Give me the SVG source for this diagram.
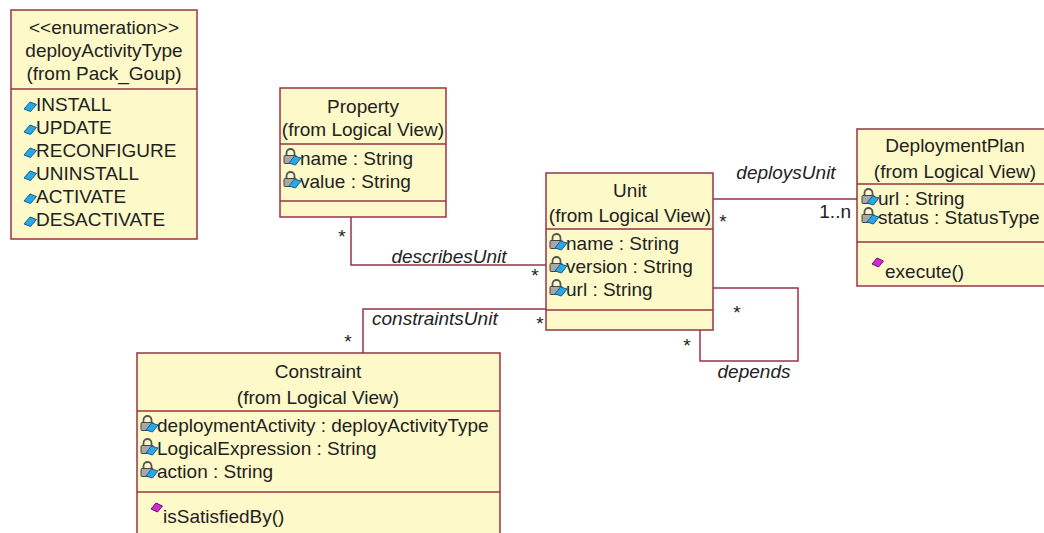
<svg xmlns="http://www.w3.org/2000/svg" xmlns:xlink="http://www.w3.org/1999/xlink" width="1044" height="533" viewBox="0 0 1044 533">
<style>
.box{fill:#fdf9c9;stroke:#993344;stroke-width:1.5}
.div{stroke:#993344;stroke-width:1.5}
.t{font-family:"Liberation Sans",Arial,sans-serif;font-size:19px;fill:#222}
.c{text-anchor:middle}
.i{font-style:italic}
.e{text-anchor:end}
.conn{fill:none;stroke:#993344;stroke-width:1.5}
</style>
<defs>
<g id="attr">
<path d="M2.5,-9 V-12 a4,4 0 0 1 8,0 V-9" fill="none" stroke="#555" stroke-width="1.8"/>
<rect x="0" y="-9.5" width="12.5" height="8" rx="1" fill="#a8a8a8" stroke="#444" stroke-width="1"/>
<polygon points="5,-2 10.5,-9 17,-7 11.5,0" fill="#2aa8e2" stroke="#10609a" stroke-width="1"/>
</g>
<g id="lit">
<polygon points="0,-3 6,-10 12.5,-7.5 6.5,-0.5" fill="#2aa8e2" stroke="#10609a" stroke-width="1"/>
</g>
<g id="op">
<polygon points="0,-11 5,-17 11.5,-14 6.5,-8" fill="#d02ad0" stroke="#6a1070" stroke-width="1"/>
</g>
</defs>
<rect width="1044" height="533" fill="#fff"/>

<g id="connectors">
<polyline class="conn" points="351,217 351,265 546,265"/>
<polyline class="conn" points="363,353 363,309 546,309"/>
<line class="conn" x1="713" y1="199" x2="857" y2="199"/>
<polyline class="conn" points="713,288 798,288 798,361 700,361 700,330"/>
<text class="t i c" x="449" y="263">describesUnit</text>
<text class="t c" x="342" y="243">*</text>
<text class="t c" x="535" y="282">*</text>
<text class="t i" x="372" y="325">constraintsUnit</text>
<text class="t c" x="540" y="330">*</text>
<text class="t c" x="348" y="348">*</text>
<text class="t i c" x="786" y="179">deploysUnit</text>
<text class="t c" x="723" y="228">*</text>
<text class="t e" x="851" y="218">1..n</text>
<text class="t c" x="737" y="319">*</text>
<text class="t c" x="687" y="352">*</text>
<text class="t i c" x="754" y="378">depends</text>
</g>

<g id="deployActivityType">
<rect class="box" x="11" y="10" width="186" height="229"/>
<line class="div" x1="11" y1="89" x2="197" y2="89"/>
<text class="t c" x="104" y="34">&lt;&lt;enumeration&gt;&gt;</text>
<text class="t c" x="104" y="57">deployActivityType</text>
<text class="t c" x="104" y="80">(from Pack_Goup)</text>
<use xlink:href="#lit" x="24" y="112"/><text class="t" x="36" y="111">INSTALL</text>
<use xlink:href="#lit" x="24" y="135"/><text class="t" x="36" y="134">UPDATE</text>
<use xlink:href="#lit" x="24" y="158"/><text class="t" x="36" y="157">RECONFIGURE</text>
<use xlink:href="#lit" x="24" y="181"/><text class="t" x="36" y="180">UNINSTALL</text>
<use xlink:href="#lit" x="24" y="204"/><text class="t" x="36" y="203">ACTIVATE</text>
<use xlink:href="#lit" x="24" y="227"/><text class="t" x="36" y="226">DESACTIVATE</text>
</g>

<g id="Property">
<rect class="box" x="280" y="88" width="166" height="129"/>
<line class="div" x1="280" y1="144" x2="446" y2="144"/>
<line class="div" x1="280" y1="201" x2="446" y2="201"/>
<text class="t c" x="363" y="113">Property</text>
<text class="t c" x="363" y="136">(from Logical View)</text>
<use xlink:href="#attr" x="284" y="165"/><text class="t" x="300" y="165">name : String</text>
<use xlink:href="#attr" x="284" y="188"/><text class="t" x="300" y="188">value : String</text>
</g>

<g id="Unit">
<rect class="box" x="546" y="173" width="167" height="157"/>
<line class="div" x1="546" y1="229" x2="713" y2="229"/>
<line class="div" x1="546" y1="310" x2="713" y2="310"/>
<text class="t c" x="630" y="197">Unit</text>
<text class="t c" x="630" y="222">(from Logical View)</text>
<use xlink:href="#attr" x="550" y="250"/><text class="t" x="566" y="250">name : String</text>
<use xlink:href="#attr" x="550" y="273"/><text class="t" x="566" y="273">version : String</text>
<use xlink:href="#attr" x="550" y="296"/><text class="t" x="566" y="296">url : String</text>
</g>

<g id="DeploymentPlan">
<rect class="box" x="857" y="129" width="195" height="157"/>
<line class="div" x1="857" y1="184" x2="1052" y2="184"/>
<line class="div" x1="857" y1="242" x2="1052" y2="242"/>
<text class="t c" x="955" y="152">DeploymentPlan</text>
<text class="t c" x="955" y="178">(from Logical View)</text>
<use xlink:href="#attr" x="862" y="205"/><text class="t" x="878" y="205">url : String</text>
<use xlink:href="#attr" x="862" y="224"/><text class="t" x="878" y="224">status : StatusType</text>
<use xlink:href="#op" x="872" y="275"/><text class="t" x="885" y="278">execute()</text>
</g>

<g id="Constraint">
<rect class="box" x="137" y="353" width="363" height="192"/>
<line class="div" x1="137" y1="411" x2="500" y2="411"/>
<line class="div" x1="137" y1="492" x2="500" y2="492"/>
<text class="t c" x="318" y="378">Constraint</text>
<text class="t c" x="318" y="404">(from Logical View)</text>
<use xlink:href="#attr" x="141" y="432"/><text class="t" x="157" y="432">deploymentActivity : deployActivityType</text>
<use xlink:href="#attr" x="141" y="455"/><text class="t" x="157" y="455">LogicalExpression : String</text>
<use xlink:href="#attr" x="141" y="478"/><text class="t" x="157" y="478">action : String</text>
<use xlink:href="#op" x="151" y="520"/><text class="t" x="163" y="523">isSatisfiedBy()</text>
</g>
</svg>
